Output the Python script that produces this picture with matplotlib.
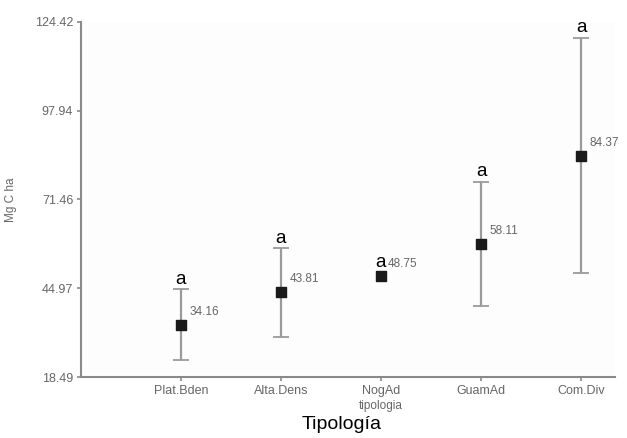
import matplotlib
matplotlib.use("Agg")
import matplotlib.pyplot as plt

plt.rcParams["font.family"] = ["Liberation Sans", "DejaVu Sans"]

categories = ["Plat.Bden", "Alta.Dens", "NogAd", "GuamAd", "Com.Div"]
means = [34.16, 43.81, 48.75, 58.11, 84.37]
err_low = [10.6, 13.4, 0.0, 18.4, 34.8]
err_high = [10.6, 13.2, 0.0, 18.6, 35.3]
letters = ["a", "a", "a", "a", "a"]
yticks = [18.49, 44.97, 71.46, 97.94, 124.42]

fig = plt.figure(figsize=(6.27, 4.38), dpi=100)
fig.patch.set_facecolor("white")
ax = fig.add_axes([0.129, 0.139, 0.852, 0.811])
ax.set_facecolor("#fdfdfd")

x = list(range(len(categories)))
grey = "#8a8a8a"
idx = [i for i in x if err_low[i] > 0 or err_high[i] > 0]
ax.errorbar([x[i] for i in idx], [means[i] for i in idx],
            yerr=[[err_low[i] for i in idx], [err_high[i] for i in idx]],
            fmt="none", ecolor="#9a9a9a", elinewidth=1.6, capsize=6,
            capthick=1.3, zorder=2)
ax.scatter(x, means, marker="s", s=55, color="#1a1a1a", zorder=3)

for i, (m, lo, hi, lt) in enumerate(zip(means, err_low, err_high, letters)):
    if hi > 0:
        ax.annotate(f"{m:.2f}", (i, m), xytext=(6, 5), textcoords="offset points",
                    fontsize=8.5, color="#666666", ha="left", va="bottom")
        ax.annotate(lt, (i, m + hi), xytext=(0, 1), textcoords="offset points",
                    fontsize=13.5, color="black", ha="center", va="bottom")
    else:
        ax.annotate(f"{m:.2f}", (i, m), xytext=(5, 4), textcoords="offset points",
                    fontsize=8.5, color="#666666", ha="left", va="bottom")
        ax.annotate(lt, (i, m), xytext=(0, 3), textcoords="offset points",
                    fontsize=13.5, color="black", ha="center", va="bottom")

ax.set_xlim(-1, 4.34)
ax.set_ylim(yticks[0], yticks[-1])
ax.set_yticks(yticks)
ax.set_yticklabels([f"{t:.2f}" for t in yticks])
ax.set_xticks(x)
ax.set_xticklabels(categories)
ax.tick_params(axis="both", colors=grey, labelcolor="#666666", labelsize=9,
               length=3, width=1.2, direction="out", pad=2.5)
for s in ["top", "right"]:
    ax.spines[s].set_visible(False)
for s in ["left", "bottom"]:
    ax.spines[s].set_color(grey)
    ax.spines[s].set_linewidth(1.5)

ax.set_xlabel("tipologia", fontsize=8.5, color="#666666")
ax.xaxis.set_label_coords(3 / 5.34, -0.065)
ax.set_ylabel("Mg C ha", fontsize=8.5, color="#666666")
ax.yaxis.set_label_coords(-0.12, 0.5)
fig.text(0.545, 0.030, "Tipología", fontsize=14, color="black", ha="center", va="center")

fig.savefig("out.png", dpi=100)
